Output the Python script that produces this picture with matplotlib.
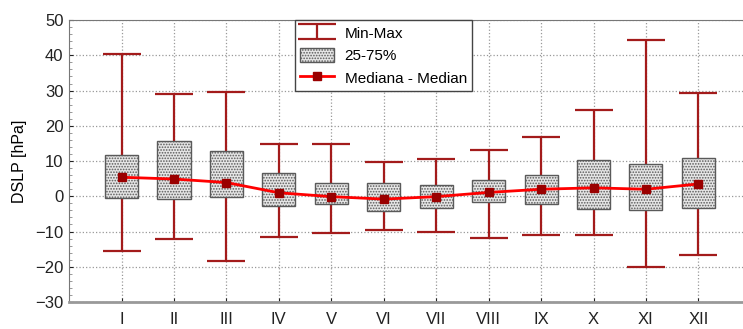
import matplotlib.pyplot as plt
import numpy as np

plt.rcParams['font.family'] = ['Liberation Sans', 'DejaVu Sans']
plt.rcParams['hatch.color'] = '#c8c8c8'
plt.rcParams['hatch.linewidth'] = 0.8

months = ['I', 'II', 'III', 'IV', 'V', 'VI', 'VII', 'VIII', 'IX', 'X', 'XI', 'XII']
val_min = [-15.4, -12.1, -18.3, -11.6, -10.5, -9.6, -10.0, -11.9, -11.0, -11.0, -20.2, -16.7]
val_max = [40.4, 29.0, 29.5, 14.9, 14.9, 9.6, 10.7, 13.0, 16.8, 24.4, 44.3, 29.4]
q25 = [-0.6, -0.7, -0.1, -2.7, -2.2, -4.2, -3.2, -1.7, -2.3, -3.7, -3.9, -3.4]
q75 = [11.7, 15.8, 12.8, 6.7, 3.7, 3.8, 3.2, 4.6, 6.0, 10.3, 9.1, 11.0]
median = [5.4, 4.9, 3.9, 1.0, -0.1, -0.8, -0.1, 1.1, 2.0, 2.4, 2.0, 3.5]

x = np.arange(1, len(months) + 1)
med = np.array(median)
lo = med - np.array(val_min)
hi = np.array(val_max) - med

fig = plt.figure(figsize=(7.43, 3.29), dpi=100)
ax = fig.add_axes([0.093, 0.082, 0.907, 0.857])

whisk_col = '#a31b1b'
eb = ax.errorbar(x, med, yerr=[lo, hi], fmt='none', ecolor=whisk_col,
                 elinewidth=1.6, capsize=14, capthick=1.6, zorder=2, label='Min-Max')

bars = ax.bar(x, np.array(q75) - np.array(q25), bottom=q25, width=0.63,
              facecolor='#e6e6e6', edgecolor='#5a5a5a', linewidth=1.0,
              hatch='......', zorder=3, label='25-75%')

ln, = ax.plot(x, med, color='#ff0000', linewidth=2, marker='s', markersize=6,
              markerfacecolor='#9a0000', markeredgecolor='#9a0000', zorder=4,
              label='Mediana - Median')

ax.set_xlim(0, 12.85)
ax.set_ylim(-30, 50)
ax.set_xticks(x)
ax.set_xticklabels(months)
ax.set_yticks(np.arange(-30, 51, 10))
ax.set_yticks(np.arange(-30, 51, 2), minor=True)
ax.tick_params(axis='both', labelsize=12, colors='#222222')
ax.tick_params(axis='x', length=3, pad=7, direction='in')
ax.tick_params(axis='y', length=3, direction='in', pad=4)
ax.tick_params(axis='y', which='minor', length=2, direction='in', color='#888888')
ax.grid(True, which='major', linestyle=':', color='#999999', linewidth=0.9)
ax.set_ylabel('DSLP [hPa]', fontsize=11.5, labelpad=6)

ax.spines['right'].set_visible(False)
for s in ['top', 'left']:
    ax.spines[s].set_color('#777777')
ax.spines['bottom'].set_color('#999999')
ax.spines['bottom'].set_linewidth(2)

leg = ax.legend([eb, bars, ln], ['Min-Max', '25-75%', 'Mediana - Median'],
                loc='upper left', bbox_to_anchor=(0.335, 1.0), fontsize=11,
                fancybox=False, edgecolor='#444444', framealpha=1,
                borderaxespad=0, handlelength=2.2, handleheight=1.1,
                handletextpad=0.7, labelspacing=0.45, borderpad=0.35)
leg.get_frame().set_linewidth(1.0)
leg.set_zorder(10)

fig.savefig('out.png', dpi=100)
